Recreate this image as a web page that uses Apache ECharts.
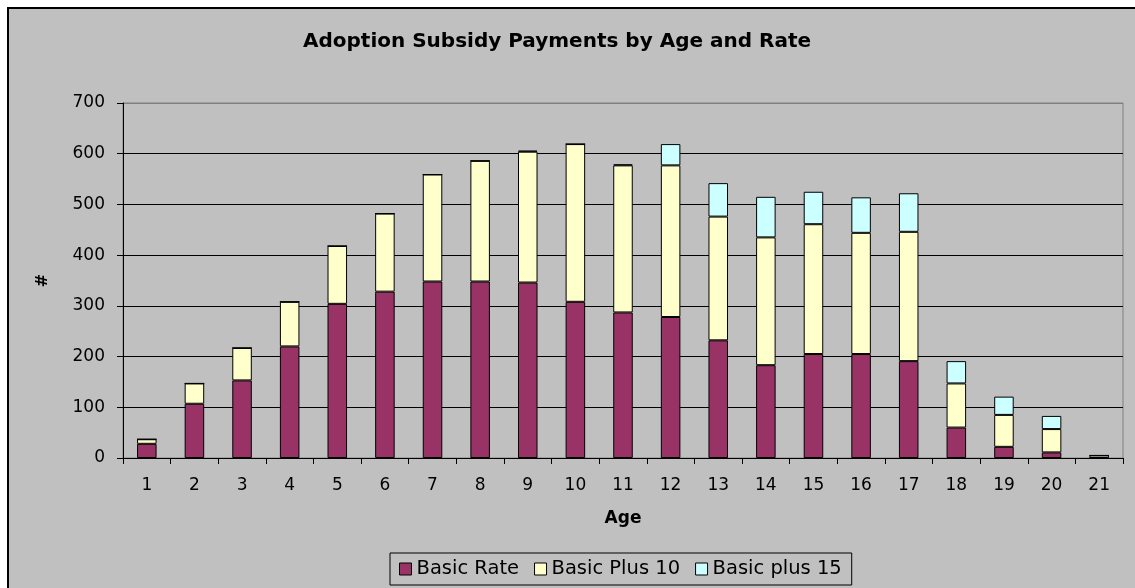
<!DOCTYPE html>
<html>
<head>
<meta charset="utf-8">
<script src="https://cdn.jsdelivr.net/npm/echarts@6/dist/echarts.min.js"></script>
<style>
  html, body { margin: 0; padding: 0; background: #fff; }
  #chart { width: 1135px; height: 588px; }
</style>
</head>
<body>
<div id="chart"></div>
<script>
// ages 1..21
var ages = ["1", "2", "3", "4", "5", "6", "7", "8", "9", "10", "11", "12", "13", "14", "15", "16", "17", "18", "19", "20", "21"];
var basicRate = [28, 107, 153, 220, 304, 328, 348, 348, 346, 308, 287, 278, 232, 183, 205, 205, 191, 60, 22, 11, 0];
var basicPlus10 = [9, 40, 64, 88, 114, 154, 211, 238, 258, 311, 290, 299, 244, 252, 256, 239, 255, 87, 63, 46, 5];
var basicPlus15 = [0, 0, 0, 0, 0, 0, 0, 0, 2, 0, 2, 42, 66, 80, 64, 70, 76, 44, 36, 26, 0];
var seriesNames = ["Basic Rate", "Basic Plus 10", "Basic plus 15"];

var FONT = "DejaVu Sans";
var chart = echarts.init(document.getElementById("chart"));

function stackBar(name, data, color) {
	return {
		name: name,
		type: "bar",
		stack: "total",
		barWidth: "41%",
		data: data,
		itemStyle: {
			color: color,
			borderColor: "#000",
			borderWidth: 1
		}
	};
}

var option = {
	animation: false,
	graphic: [
		{
			type: "rect",
			z: -10,
			silent: true,
			shape: { x: 8, y: 8, width: 1140, height: 600 },
			style: { fill: "#c0c0c0", stroke: "#000", lineWidth: 2 }
		}
	],
	title: {
		text: "Adoption Subsidy Payments by Age and Rate",
		left: 552,
		textAlign: "center",
		top: 27,
		textStyle: {
			fontFamily: FONT,
			fontSize: 20,
			fontWeight: "bold",
			color: "#000"
		}
	},
	legend: {
		data: seriesNames,
		left: 390,
		top: 553,
		orient: "horizontal",
		icon: "rect",
		itemWidth: 12,
		itemHeight: 12,
		itemGap: 15,
		padding: [6, 10, 6, 9],
		borderColor: "#000",
		borderWidth: 1,
		textStyle: {
			fontFamily: FONT,
			fontSize: 19.5,
			color: "#000"
		},
		itemStyle: {
			borderColor: "#000",
			borderWidth: 1
		}
	},
	grid: {
		left: 123,
		right: 12,
		top: 103,
		bottom: 130,
		show: true,
		borderColor: "#808080",
		borderWidth: 1,
		backgroundColor: "transparent"
	},
	xAxis: {
		type: "category",
		data: ages,
		name: "Age",
		nameLocation: "middle",
		nameGap: 52,
		nameTextStyle: {
			fontFamily: FONT,
			fontSize: 17,
			fontWeight: "bold",
			color: "#000"
		},
		axisLine: { lineStyle: { color: "#000", width: 1 } },
		axisTick: { show: true, length: 6, lineStyle: { color: "#000" } },
		axisLabel: {
			margin: 19,
			fontFamily: FONT,
			fontSize: 17,
			color: "#000"
		}
	},
	yAxis: {
		type: "value",
		min: 0,
		max: 700,
		interval: 100,
		name: "#",
		nameLocation: "middle",
		nameRotate: 90,
		nameGap: 72,
		nameTextStyle: {
			fontFamily: FONT,
			fontSize: 16,
			fontWeight: "bold",
			color: "#000"
		},
		axisLine: { show: true, lineStyle: { color: "#000", width: 1 } },
		axisTick: { show: true, length: 6, lineStyle: { color: "#000" } },
		splitLine: {
			lineStyle: {
				// top line is the plot border, grey in the original
				color: ["#000", "#000", "#000", "#000", "#000", "#000", "#000", "#808080"],
				width: 1
			}
		},
		axisLabel: {
			margin: 18,
			fontFamily: FONT,
			fontSize: 17,
			color: "#000"
		}
	},
	series: [
		stackBar(seriesNames[0], basicRate, "#993366"),
		stackBar(seriesNames[1], basicPlus10, "#ffffcc"),
		stackBar(seriesNames[2], basicPlus15, "#ccffff")
	]
};

chart.setOption(option);
</script>
</body>
</html>
